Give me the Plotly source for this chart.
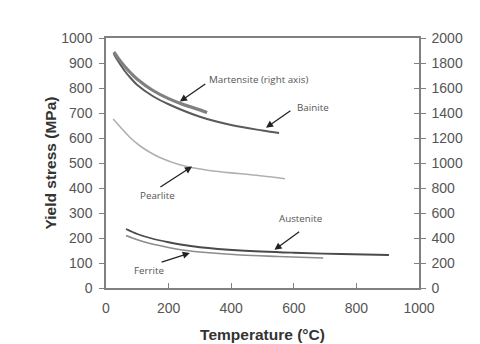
import plotly.graph_objects as go

# Data
mart_T = [25, 40, 60, 80, 100, 150, 200, 250, 300, 323]
mart_Y = [1888, 1835, 1772, 1718, 1670, 1580, 1515, 1465, 1425, 1404]   # right axis

bain_T = [25, 40, 60, 80, 100, 150, 200, 300, 400, 500, 553]
bain_Y = [936, 905, 868, 838, 812, 767, 735, 685, 652, 630, 620]

pear_T = [23, 45, 75, 109, 140, 170, 238, 330, 430, 500, 572]
pear_Y = [676, 645, 604, 568, 543, 523, 492, 470, 457, 448, 437]

aust_T = [64, 100, 141, 200, 238, 300, 430, 600, 750, 904]
aust_Y = [236, 216, 200, 183, 174, 163, 150, 141, 136, 132]

ferr_T = [64, 100, 141, 200, 238, 300, 430, 550, 694]
ferr_Y = [210, 193, 178, 162, 153, 144, 132, 126, 120]

x_ticks = [0, 200, 400, 600, 800, 1000]
yl_ticks = list(range(0, 1001, 100))
yr_ticks = list(range(0, 2001, 200))

fig = go.Figure()
fig.add_trace(go.Scatter(x=mart_T, y=mart_Y, yaxis="y2", mode="lines",
                         line=dict(color="#808080", width=3.2, shape="spline", smoothing=1.0), name="Martensite"))
fig.add_trace(go.Scatter(x=bain_T, y=bain_Y, mode="lines",
                         line=dict(color="#5a5a5a", width=2, shape="spline", smoothing=1.0), name="Bainite"))
fig.add_trace(go.Scatter(x=pear_T, y=pear_Y, mode="lines",
                         line=dict(color="#b0b0b0", width=1.6, shape="spline", smoothing=1.0), name="Pearlite"))
fig.add_trace(go.Scatter(x=aust_T, y=aust_Y, mode="lines",
                         line=dict(color="#4a4a4a", width=1.8, shape="spline", smoothing=1.0), name="Austenite"))
fig.add_trace(go.Scatter(x=ferr_T, y=ferr_Y, mode="lines",
                         line=dict(color="#8c8c8c", width=1.6, shape="spline", smoothing=1.0), name="Ferrite"))

afont = dict(family="Open Sans, Liberation Sans, sans-serif", size=9.8, color="#555")
labels = [
    ("Martensite (right axis)", 322, 833, "left"),
    ("Bainite", 604, 721, "left"),
    ("Pearlite", 166, 369, "center"),
    ("Ferrite", 137, 69, "center"),
    ("Austenite", 621, 277, "center"),
]
for txt, x, y, xa in labels:
    fig.add_annotation(x=x, y=y, text=txt, showarrow=False, font=afont,
                       xanchor=xa, yanchor="middle")

arrows = [
    (236, 746, 322, 820),
    (511, 641, 594, 713),
    (275, 486, 169, 400),
    (268, 140, 173, 102),
    (538, 153, 622, 229),
]
for hx, hy, tx, ty in arrows:
    fig.add_annotation(x=hx, y=hy, ax=tx, ay=ty, axref="x", ayref="y", text="",
                       showarrow=True, arrowhead=2, arrowsize=1.1, arrowwidth=1.3,
                       arrowcolor="#222")

tfont = dict(family="Liberation Sans, Arial, sans-serif", size=14, color="#555")
titlefont = dict(family="Liberation Sans, Arial, sans-serif", size=15.5, color="#333",
                 weight="bold")
axcol = "#808080"
fig.update_layout(
    width=480, height=344,
    margin=dict(l=98, r=69, t=30, b=64, autoexpand=False),
    paper_bgcolor="white", plot_bgcolor="white",
    showlegend=False,
    xaxis=dict(range=[0, 1000], tickvals=x_ticks, ticks="inside", ticklen=5,
               tickcolor=axcol, showline=True, linecolor=axcol, linewidth=1.5,
               mirror=True, showgrid=False, zeroline=False, tickfont=tfont,
               automargin=False, ticklabelstandoff=6,
               title=dict(text="Temperature (°C)", standoff=15, font=titlefont)),
    yaxis=dict(range=[0, 1000], tickvals=yl_ticks, ticks="outside", ticklen=5,
               tickcolor=axcol, showline=True, linecolor=axcol, linewidth=1.5,
               showgrid=False, zeroline=False, tickfont=tfont, automargin=False,
               ticklabelstandoff=4,
               title=dict(text="Yield stress (MPa)", standoff=1, font=titlefont)),
    yaxis2=dict(range=[0, 2000], tickvals=yr_ticks, overlaying="y", side="right",
                ticks="outside", ticklen=5, tickcolor=axcol, showline=True,
                linecolor=axcol, linewidth=1.5, showgrid=False, zeroline=False,
                tickfont=tfont, automargin=False, ticklabelstandoff=3),
    yaxis3=dict(range=[0, 2000], tickvals=yr_ticks, overlaying="y", side="right",
                ticks="inside", ticklen=5, tickcolor=axcol, showline=False,
                showticklabels=False, showgrid=False, zeroline=False, automargin=False),
)
fig.add_trace(go.Scatter(x=[None], y=[None], yaxis="y3", showlegend=False))

fig.write_html("out.html")
